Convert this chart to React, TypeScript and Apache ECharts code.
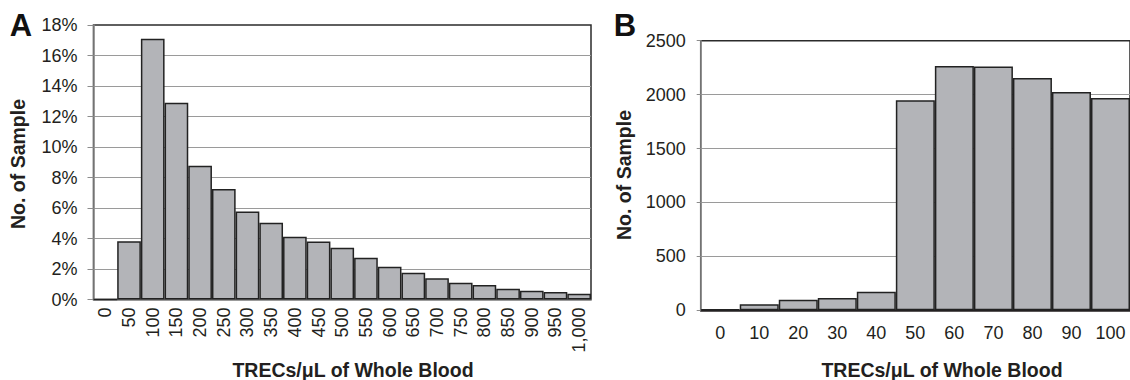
import React, { useEffect, useRef } from "react";
import * as echarts from "echarts";

const catsA = ["0", "50", "100", "150", "200", "250", "300", "350", "400", "450", "500", "550", "600", "650", "700", "750", "800", "850", "900", "950", "1,000"];
const valsA = [0, 3.82, 17.1, 12.9, 8.77, 7.25, 5.77, 5.04, 4.12, 3.81, 3.4, 2.74, 2.15, 1.76, 1.39, 1.1, 0.95, 0.71, 0.58, 0.49, 0.38];

const catsB = ["0", "10", "20", "30", "40", "50", "60", "70", "80", "90", "100"];
const valsB = [8, 56, 98, 114, 173, 1947, 2265, 2260, 2154, 2024, 1968];

const FONT = '"Liberation Sans", Arial, sans-serif';
const TXT = "#231f20";
const GRIDC = "#9a9a9a";
const BAR = "#b3b4b8";

export default function App() {
  const ref = useRef<HTMLDivElement>(null);
  useEffect(() => {
    if (!ref.current) return;
    const chart = echarts.init(ref.current, undefined, { renderer: "svg" });
    const barStyle = { color: BAR, borderColor: "#222", borderWidth: 1.5 };
    chart.setOption({
      animation: false,
      textStyle: { fontFamily: FONT },
      grid: [
        { left: 93.5, top: 25, width: 497.5, height: 274.5, show: true, borderColor: "#2b2b2b", borderWidth: 1.5, backgroundColor: "transparent" },
        { left: 700.7, top: 40.7, width: 432.6, height: 269.6, show: true, borderColor: "#2b2b2b", borderWidth: 1.5, backgroundColor: "transparent" },
      ],
      xAxis: [
        {
          type: "category", gridIndex: 0, data: catsA,
          axisLine: { lineStyle: { color: "#8c8c8c", width: 1.5 } },
          axisTick: { length: 4, lineStyle: { color: "#8c8c8c" } },
          axisLabel: { rotate: 90, margin: 8, fontSize: 18, color: TXT, interval: 0, fontFamily: FONT },
        },
        {
          type: "category", gridIndex: 1, data: catsB,
          axisLine: { lineStyle: { color: "#231f20", width: 1.5 } },
          axisTick: { length: 5, lineStyle: { color: "#231f20" } },
          axisLabel: { margin: 14, fontSize: 18, color: TXT, interval: 0, fontFamily: FONT },
        },
      ],
      yAxis: [
        {
          type: "value", gridIndex: 0, min: 0, max: 18, interval: 2,
          axisLine: { show: true, lineStyle: { color: "#8c8c8c", width: 1.5 } },
          axisTick: { show: true, length: 6, lineStyle: { color: "#8c8c8c" } },
          axisLabel: { formatter: "{value}%", fontSize: 18, color: TXT, margin: 16, fontFamily: FONT },
          splitLine: { show: true, showMinLine: false, showMaxLine: false, lineStyle: { color: GRIDC, width: 1.2 } },
        },
        {
          type: "value", gridIndex: 1, min: 0, max: 2500, interval: 500,
          axisLine: { show: true, lineStyle: { color: "#8c8c8c", width: 1.5 } },
          axisTick: { show: true, length: 4, lineStyle: { color: "#8c8c8c" } },
          axisLabel: { formatter: (v: number) => String(v), fontSize: 18, color: TXT, margin: 15, fontFamily: FONT },
          splitLine: { show: true, showMinLine: false, showMaxLine: false, lineStyle: { color: GRIDC, width: 1.2 } },
        },
      ],
      series: [
        { type: "bar", xAxisIndex: 0, yAxisIndex: 0, data: valsA, barWidth: "100%", barCategoryGap: "0%", itemStyle: barStyle },
        { type: "bar", xAxisIndex: 1, yAxisIndex: 1, data: valsB, barWidth: "100%", barCategoryGap: "0%", itemStyle: barStyle },
      ],
      graphic: [
        { type: "text", x: 21, y: 25, style: { text: "A", fontSize: 31, fontWeight: "bold", fontFamily: FONT, fill: "#111", align: "center", verticalAlign: "middle" } },
        { type: "text", x: 625, y: 25, style: { text: "B", fontSize: 31, fontWeight: "bold", fontFamily: FONT, fill: "#111", align: "center", verticalAlign: "middle" } },
        { type: "text", x: 353, y: 370, style: { text: "TRECs/\u03bcL of Whole Blood", fontSize: 19.5, fontWeight: "bold", fontFamily: FONT, fill: TXT, align: "center", verticalAlign: "middle" } },
        { type: "text", x: 942, y: 370, style: { text: "TRECs/\u03bcL of Whole Blood", fontSize: 19.5, fontWeight: "bold", fontFamily: FONT, fill: TXT, align: "center", verticalAlign: "middle" } },
        { type: "text", x: 17.5, y: 164, rotation: Math.PI / 2, style: { text: "No. of Sample", fontSize: 19.5, fontWeight: "bold", fontFamily: FONT, fill: TXT, align: "center", verticalAlign: "middle" } },
        { type: "text", x: 624, y: 175, rotation: Math.PI / 2, style: { text: "No. of Sample", fontSize: 19.5, fontWeight: "bold", fontFamily: FONT, fill: TXT, align: "center", verticalAlign: "middle" } },
      ],
    });
    return () => chart.dispose();
  }, []);
  return (
    <div
      ref={ref}
      style={{ position: "fixed", left: 0, top: 0, width: 1130, height: 380, background: "#fff" }}
    />
  );
}
